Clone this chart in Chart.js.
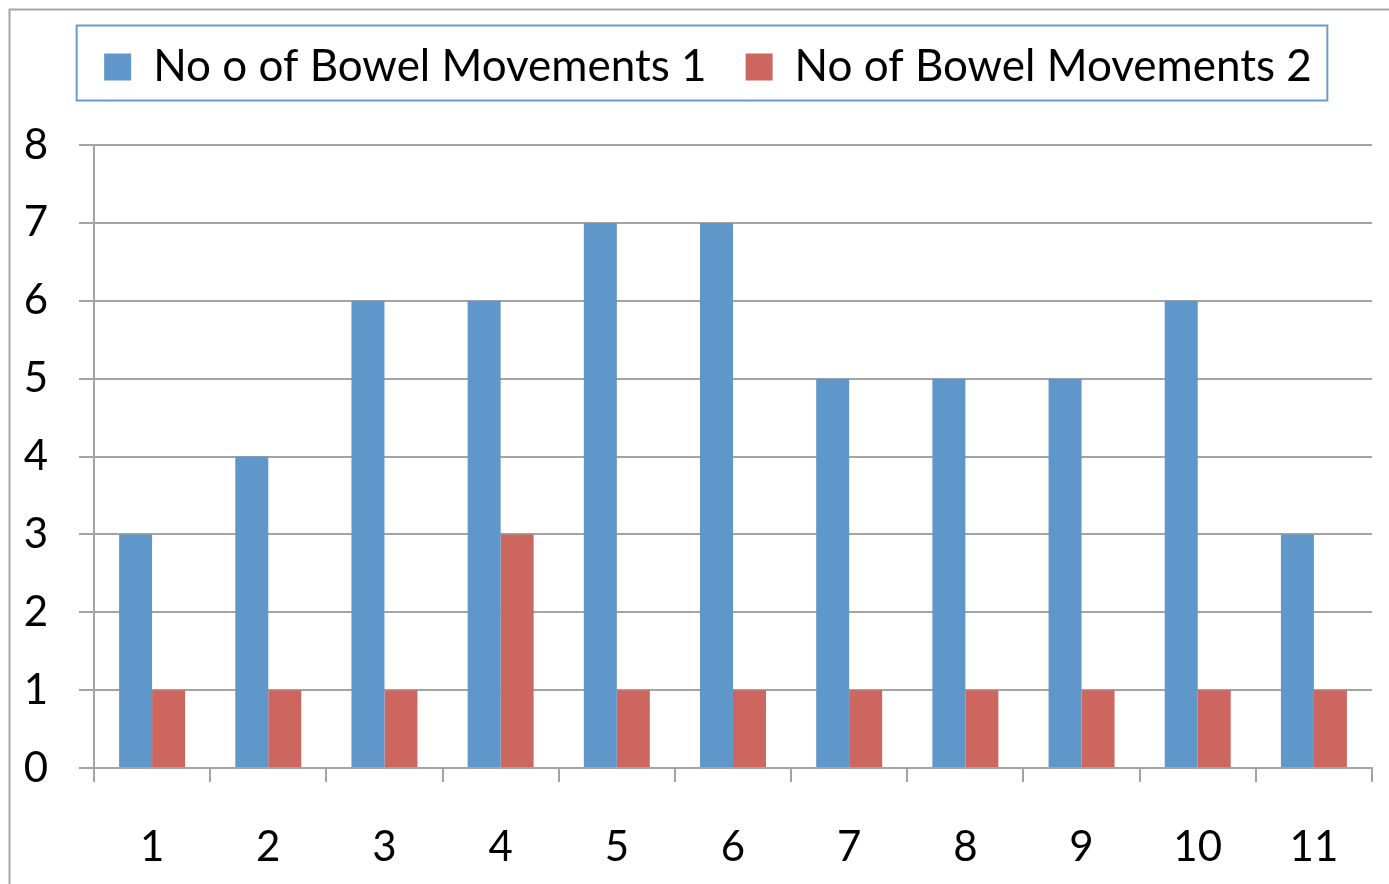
<!DOCTYPE html>
<html>
<head>
<meta charset="utf-8">
<title>Bowel Movements</title>
<script src="https://cdn.jsdelivr.net/npm/chart.js@4/dist/chart.umd.min.js"></script>
<style>
  html, body { margin: 0; padding: 0; background: #ffffff; }
  canvas { display: block; }
</style>
</head>
<body>
<canvas id="chart" width="1389" height="884"></canvas>
<script>
// Category labels along the x axis
const categories = ['1', '2', '3', '4', '5', '6', '7', '8', '9', '10', '11'];
// Series values
const movements1 = [3, 4, 6, 6, 7, 7, 5, 5, 5, 6, 3];
const movements2 = [1, 1, 1, 3, 1, 1, 1, 1, 1, 1, 1];
// Series names shown in the legend
const seriesNames = ['No o of Bowel Movements 1', 'No of Bowel Movements 2'];
// Value axis range
const yMin = 0;
const yMax = 8;
const yStep = 1;

const BLUE = '#6097ca';
const RED = '#cd665f';
const GRID = '#a3a3a3';
const FONT = "Lato, 'Open Sans', sans-serif";

Chart.defaults.font.family = FONT;
Chart.defaults.color = '#000000';

// White background plus the thin outer frame on the left and top
const framePlugin = {
  id: 'frame',
  beforeDraw(chart) {
    const ctx = chart.ctx;
    ctx.save();
    ctx.fillStyle = '#ffffff';
    ctx.fillRect(0, 0, chart.width, chart.height);
    ctx.strokeStyle = '#a6a6a6';
    ctx.lineWidth = 2;
    ctx.beginPath();
    ctx.moveTo(9.5, chart.height + 2);
    ctx.lineTo(9.5, 9.5);
    ctx.lineTo(chart.width + 2, 9.5);
    ctx.stroke();
    ctx.restore();
  }
};

// Border drawn around the legend entries
const legendBorderPlugin = {
  id: 'legendBorder',
  afterDraw(chart) {
    const boxes = chart.legend && chart.legend.legendHitBoxes;
    if (!boxes || !boxes.length) return;
    const first = boxes[0];
    const last = boxes[boxes.length - 1];
    const left = first.left - 28;
    const right = last.left + last.width + 15;
    const top = first.top - 20;
    const bottom = first.top + first.height + 11;
    const ctx = chart.ctx;
    ctx.save();
    ctx.strokeStyle = '#6a9bd0';
    ctx.lineWidth = 2;
    ctx.strokeRect(left + 0.5, top + 0.5, right - left, bottom - top);
    ctx.restore();
  }
};

new Chart(document.getElementById('chart'), {
  type: 'bar',
  data: {
    labels: categories,
    datasets: [
      {
        label: seriesNames[0],
        data: movements1,
        backgroundColor: BLUE,
        borderWidth: 0,
        categoryPercentage: 0.568,
        barPercentage: 1.0
      },
      {
        label: seriesNames[1],
        data: movements2,
        backgroundColor: RED,
        borderWidth: 0,
        categoryPercentage: 0.568,
        barPercentage: 1.0
      }
    ]
  },
  options: {
    responsive: false,
    animation: false,
    devicePixelRatio: 1,
    layout: { padding: { top: 6, left: 44, right: 17, bottom: 0 } },
    plugins: {
      legend: {
        display: true,
        position: 'top',
        labels: {
          boxWidth: 27,
          boxHeight: 27,
          padding: 39,
          color: '#000000',
          font: { size: 44, family: FONT }
        }
      },
      // empty spacer between the legend and the plot
      subtitle: {
        display: true,
        text: '',
        weight: 500,
        padding: { top: 36, bottom: 0 },
        font: { size: 10, lineHeight: 1 }
      },
      tooltip: { enabled: false }
    },
    scales: {
      x: {
        offset: true,
        grid: {
          offset: true,
          drawOnChartArea: false,
          drawTicks: true,
          tickLength: 14,
          color: GRID,
          lineWidth: 2
        },
        border: { display: true, color: GRID, width: 2 },
        ticks: {
          padding: 40,
          color: '#000000',
          font: { size: 42, family: FONT },
          maxRotation: 0
        },
        afterFit(scale) { scale.height = 116; }
      },
      y: {
        min: yMin,
        max: yMax,
        grid: {
          drawTicks: true,
          tickLength: 15,
          color: GRID,
          lineWidth: 2
        },
        border: { display: true, color: GRID, width: 2 },
        ticks: {
          stepSize: yStep,
          padding: 31,
          color: '#000000',
          font: { size: 42, family: FONT }
        },
        afterFit(scale) {
          scale.width = 50;
          // labels sit left of the narrow axis box, so skip label clipping
          scale._computeLabelArea = () => null;
        }
      }
    }
  },
  plugins: [framePlugin, legendBorderPlugin]
});
</script>
</body>
</html>
